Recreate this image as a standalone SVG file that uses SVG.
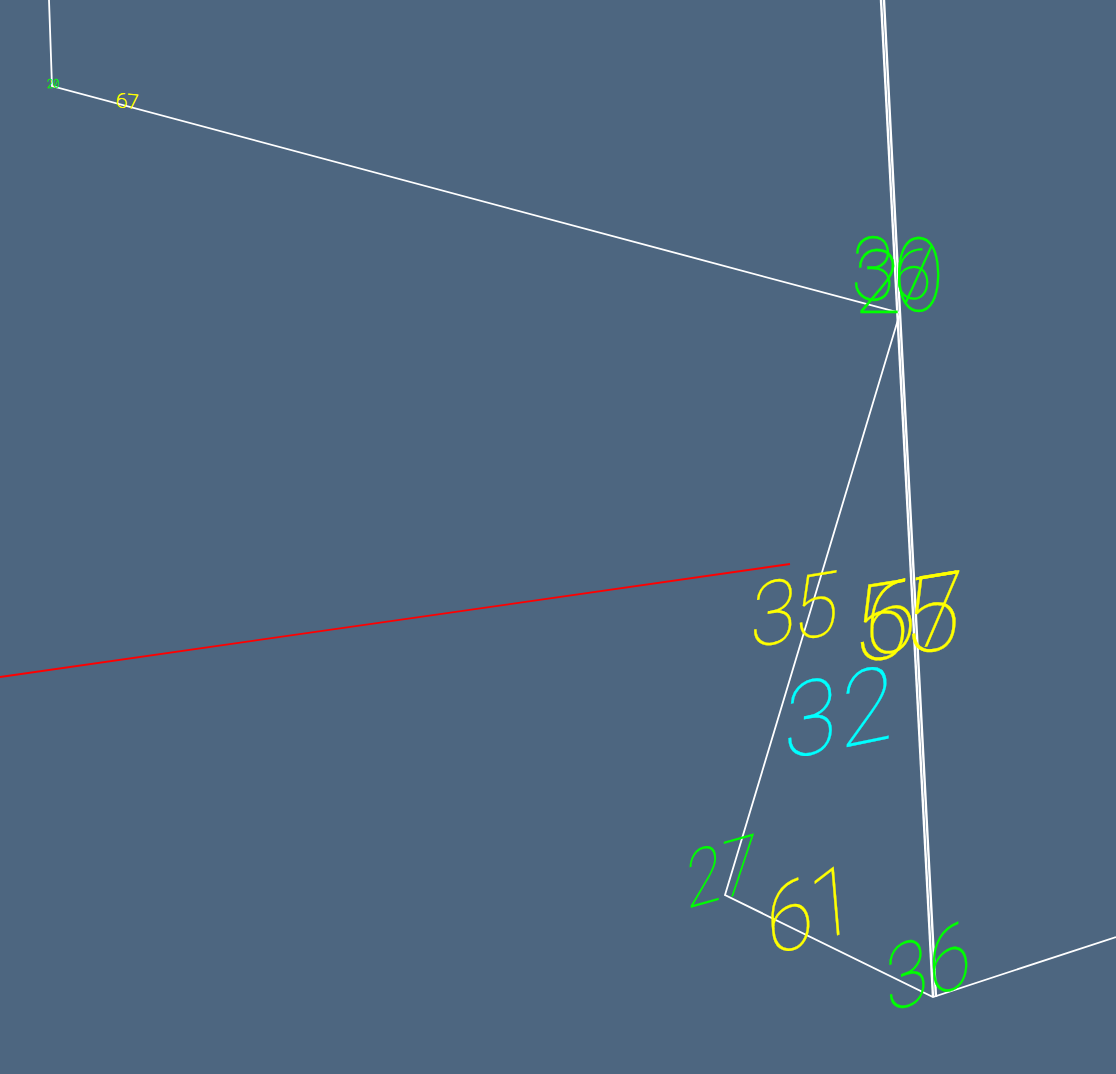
<svg xmlns="http://www.w3.org/2000/svg" width="1116" height="1074" viewBox="0 0 1116 1074">
<style>
.e{fill:none;stroke:#fff;stroke-width:1.8}
.w{stroke-width:2.4}
.r{fill:none;stroke:#f00;stroke-width:1.8}
text{font-family:"Roboto","Inter","Lato",sans-serif;font-weight:100;font-size:100px;stroke-width:.3px}
.z{font-family:"Inter","Roboto",sans-serif;font-variant-numeric:slashed-zero}
.g{fill:#0f0;stroke:#0f0}.y{fill:#ff0;stroke:#ff0}.c{fill:#0ff;stroke:#0ff}
.s{stroke-width:3px}
</style>
<rect width="1116" height="1074" fill="#4d6680"/>
<g id="connectors">
<path class="e" d="M49 0L52 86L900 313L725 895L933 997L1116 937"/>
<path class="e w" d="M881 0L933 997"/>
<path class="e w" d="M884 0L900 313L936 997"/>
<path class="r" d="M0 677L790 564"/>
</g>
<g id="labels">
<text class="g" transform="matrix(0.8,0,0,0.88,851,300)">3<tspan class="z" dx="-4" dy="13" font-size="115">0</tspan></text>
<text class="g" transform="matrix(0.87,0,0,0.89,854,313)">2<tspan dx="-9" dy="-16" font-size="80">6</tspan></text>
<text class="y" letter-spacing="-6" transform="matrix(1.05,-0.17,-0.03,1.08,851,664)">55</text>
<text class="y" letter-spacing="-6" transform="matrix(0.95,-0.16,-0.03,1,864,657)">67</text>
<text class="y" transform="matrix(0.84,-0.14,-0.05,0.9,749,648)">3<tspan dx="-4">5</tspan></text>
<text class="c" transform="matrix(0.98,-0.2,-0.03,1.05,783,760)">3<tspan dx="3">2</tspan></text>
<text class="g" transform="matrix(0.65,-0.18,0,0.8,686,909)">27</text>
<text class="y" transform="matrix(0.85,-0.27,0.08,0.95,769,957)">6<tspan dx="-4">1</tspan></text>
<text class="g" transform="matrix(0.78,-0.29,0.05,0.9,887,1014)">36</text>
<text class="y s" transform="matrix(0.21,0.02,0,0.2,116,107)">67</text>
<text class="g s" transform="matrix(0.11,0,0,0.12,47,88)">2<tspan class="z">0</tspan></text>
</g>
</svg>
